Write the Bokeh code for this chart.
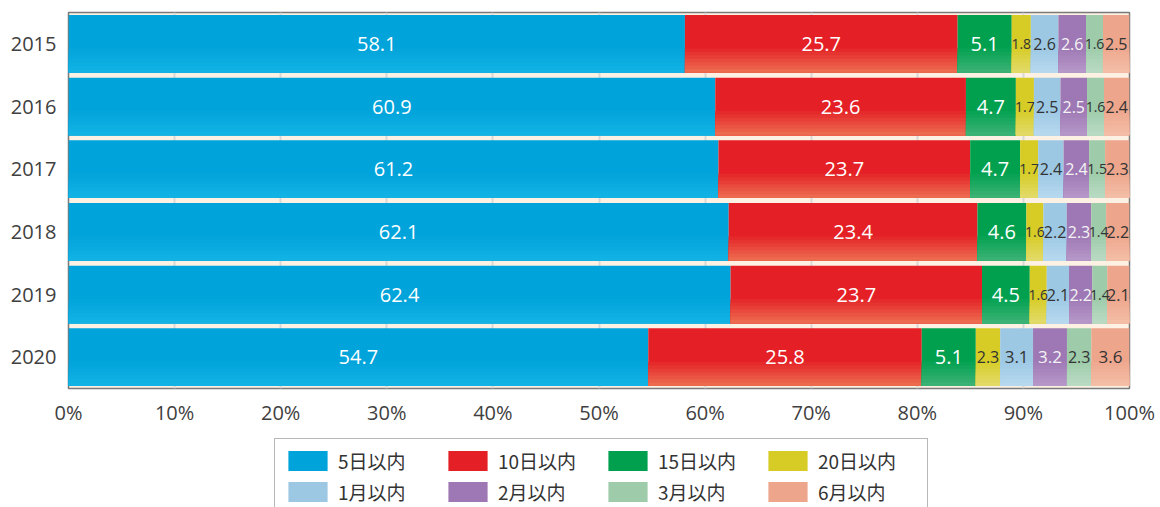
from bokeh.plotting import figure
from bokeh.layouts import column
from bokeh.models import ColumnDataSource, Legend, LegendItem, FactorRange, FixedTicker, Range1d
from bokeh.transform import dodge
from bokeh.core.properties import value
from bokeh.embed import file_html
from bokeh.resources import INLINE

years = ["2015", "2016", "2017", "2018", "2019", "2020"]
series_names = ["5日以内", "10日以内", "15日以内", "20日以内", "1月以内", "2月以内", "3月以内", "6月以内"]
d5 = [58.1, 60.9, 61.2, 62.1, 62.4, 54.7]
d10 = [25.7, 23.6, 23.7, 23.4, 23.7, 25.8]
d15 = [5.1, 4.7, 4.7, 4.6, 4.5, 5.1]
d20 = [1.8, 1.7, 1.7, 1.6, 1.6, 2.3]
m1 = [2.6, 2.5, 2.4, 2.2, 2.1, 3.1]
m2 = [2.6, 2.5, 2.4, 2.3, 2.2, 3.2]
m3 = [1.6, 1.6, 1.5, 1.4, 1.4, 2.3]
m6 = [2.5, 2.4, 2.3, 2.2, 2.1, 3.6]
x_ticks = [0, 10, 20, 30, 40, 50, 60, 70, 80, 90, 100]
x_tick_labels = ["0%", "10%", "20%", "30%", "40%", "50%", "60%", "70%", "80%", "90%", "100%"]

series_values = [d5, d10, d15, d20, m1, m2, m3, m6]
colors = ["#00a3da", "#e41f26", "#00a04f", "#d6cc25", "#9cc8e4", "#9e78b4", "#9ecbaa", "#eda68c"]
light_colors = ["#12b2e4", "#ec6a4e", "#3ab274", "#e2da66", "#b6d8ee", "#b596c8", "#b8dac2", "#f4bda6"]
label_colors = ["#ffffff", "#ffffff", "#ffffff", "#333333", "#333333", "#f4f4f4", "#333333", "#333333"]

NUM_FONT = "Open Sans"
CJK_FONT = "Noto Sans CJK JP"

W = 1160
TOP, FRAME_H, BOTTOM = 12, 376, 44
BAR_H = 0.92
N_STRIPS = 7
GRAD_FRAC = 0.42
FRAME_LEFT = 68


def hex_mix(c1, c2, t):
    a = [int(c1[i:i + 2], 16) for i in (1, 3, 5)]
    b = [int(c2[i:i + 2], 16) for i in (1, 3, 5)]
    return "#" + "".join(f"{round(x + (y - x) * t):02x}" for x, y in zip(a, b))


def label_size(v):
    if v >= 4:
        return "20px"
    if v >= 3:
        return "17px"
    if v >= 2:
        return "16px"
    return "14px"


p = figure(width=W, height=TOP + FRAME_H + BOTTOM,
           y_range=FactorRange(factors=years[::-1], range_padding=0),
           x_range=Range1d(0, 100), output_backend="svg", toolbar_location=None,
           min_border_left=FRAME_LEFT, min_border_right=31, min_border_top=TOP,
           min_border_bottom=BOTTOM)

p.background_fill_color = "#fdf1e3"
p.border_fill_color = "#ffffff"
p.outline_line_color = "#7a7a7a"
p.outline_line_width = 1.5

totals = [sum(s[i] for s in series_values) for i in range(len(years))]
left = [0.0] * len(years)
labels = dict(x=[], y=[], text=[], color=[], size=[])
for k, vals in enumerate(series_values):
    norm = [v * 100.0 / t for v, t in zip(vals, totals)]
    right = [l + n for l, n in zip(left, norm)]
    src = ColumnDataSource(dict(y=years, left=left, right=right))
    p.hbar(y="y", left="left", right="right", height=BAR_H, source=src,
           fill_color=colors[k], line_color=None)
    # soft lighter band toward the bottom of each bar
    step = BAR_H * GRAD_FRAC / N_STRIPS
    for j in range(N_STRIPS):
        h = (N_STRIPS - j) * step
        t = (j + 1) / N_STRIPS
        p.hbar(y=dodge("y", -BAR_H / 2 + h / 2, range=p.y_range), left="left", right="right",
               height=h, source=src, fill_color=hex_mix(colors[k], light_colors[k], t),
               line_color=None)
    for i, v in enumerate(vals):
        labels["x"].append((left[i] + right[i]) / 2)
        labels["y"].append(years[i])
        labels["text"].append(f"{v:.1f}")
        labels["color"].append(label_colors[k])
        labels["size"].append(label_size(v))
    left = right

p.text(x="x", y="y", text="text", source=ColumnDataSource(labels), text_color="color",
       text_align="center", text_baseline="middle", text_font=value(NUM_FONT),
       text_font_size="size")

p.xaxis.ticker = FixedTicker(ticks=x_ticks)
p.xaxis.major_label_overrides = {t: l for t, l in zip(x_ticks, x_tick_labels)}
for ax in (p.xaxis, p.yaxis):
    ax.axis_line_color = None
    ax.major_tick_line_color = None
    ax.minor_tick_line_color = None
    ax.major_label_text_font = NUM_FONT
    ax.major_label_text_font_size = "20px"
    ax.major_label_text_color = "#404040"
p.xaxis.major_label_standoff = 4
p.yaxis.major_label_standoff = 6

p.xgrid.ticker = FixedTicker(ticks=x_ticks[1:-1])
p.xgrid.grid_line_color = "#d8d8d8"
p.xgrid.grid_line_width = 2
p.ygrid.grid_line_color = None

# legend in its own strip below the chart
LEG_H = 507 - (TOP + FRAME_H + BOTTOM)
q = figure(width=W, height=LEG_H, x_range=Range1d(0, 1), y_range=Range1d(0, 1),
           output_backend="svg", toolbar_location=None, x_axis_location=None,
           y_axis_location=None, min_border=0)
q.outline_line_color = None
q.background_fill_color = "#ffffff"
q.border_fill_color = "#ffffff"
q.xgrid.visible = False
q.ygrid.visible = False
items = []
for k, name in enumerate(series_names):
    # swatch-only renderer: a zero-size bar, so only its legend swatch shows
    rr = q.hbar(y=[0], left=[0], right=[0], height=0, fill_color=colors[k], line_color=None)
    items.append(LegendItem(label=name, renderers=[rr]))

legend = Legend(items=items, orientation="horizontal", ncols=4, location=(274 - FRAME_LEFT, -7),
                glyph_width=49, glyph_height=25, label_standoff=6, label_width=101,
                label_height=20, spacing=4, padding=8, margin=0,
                border_line_color="#707070", border_line_width=1.2,
                label_text_font=CJK_FONT, label_text_font_size="19px",
                label_text_color="#333333", background_fill_color="#ffffff")
q.add_layout(legend, "center")

layout = column(p, q, spacing=0)
open("out.html", "w").write(file_html(layout, INLINE))
